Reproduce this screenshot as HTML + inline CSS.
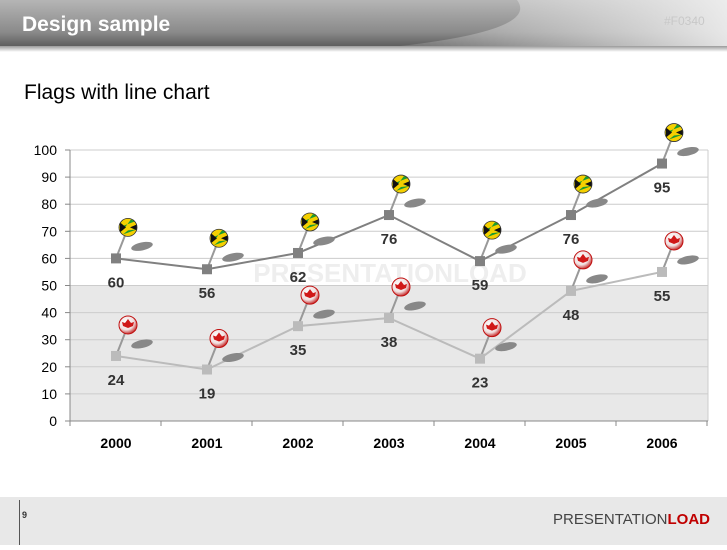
<!DOCTYPE html>
<html><head><meta charset="utf-8"><style>
body{margin:0;width:727px;height:545px;overflow:hidden;background:#fff;font-family:"Liberation Sans",sans-serif}
</style></head><body>
<svg id="s" width="727" height="545" xmlns="http://www.w3.org/2000/svg">
<defs>
<linearGradient id="hd" x1="0" y1="0" x2="0" y2="1"><stop offset="0" stop-color="#b5b5b5"/><stop offset="0.7" stop-color="#8a8a8a"/><stop offset="1" stop-color="#5e5e5e"/></linearGradient>
<linearGradient id="hl" x1="0" y1="0" x2="1" y2="0"><stop offset="0" stop-color="#d8d8d8" stop-opacity="0"/><stop offset="1" stop-color="#f2f2f2"/></linearGradient>
<linearGradient id="sh" x1="0" y1="0" x2="0" y2="1"><stop offset="0" stop-color="#999"/><stop offset="1" stop-color="#fff"/></linearGradient>
<radialGradient id="ca" cx="0.4" cy="0.35" r="0.7"><stop offset="0" stop-color="#fff"/><stop offset="0.6" stop-color="#f0e0e0"/><stop offset="1" stop-color="#c01010"/></radialGradient>
</defs>
<rect x="0" y="0" width="727" height="46" fill="url(#hd)"/>
<path d="M330,0 L727,0 L727,46 L400,46 Q540,30 517,0 Z" fill="url(#hl)" opacity="0.9"/>
<rect x="0" y="46" width="727" height="6" fill="url(#sh)"/>
<text x="22" y="31" font-size="21" font-weight="bold" fill="#fff">Design sample</text>
<text x="664" y="25" font-size="12" fill="#c8c8c8">#F0340</text>
<text x="24" y="99" font-size="21" fill="#000">Flags with line chart</text>
<rect x="0" y="497" width="727" height="48" fill="#e8e8e8"/>
<line x1="19.5" y1="500" x2="19.5" y2="545" stroke="#555"/>
<text x="22" y="518" font-size="9" font-weight="bold" fill="#333">9</text>
<text x="710" y="524" font-size="15" text-anchor="end" fill="#444">PRESENTATION<tspan fill="#c00000" font-weight="bold">LOAD</tspan></text>
<g id="c"></g>
</svg>
<script>
var g=document.getElementById('c'),h='';
var X0=70,X1=708,Y0=421,k=2.71;
h+='<rect x="'+X0+'" y="'+(Y0-50*k)+'" width="'+(X1-X0)+'" height="'+(50*k)+'" fill="#e8e8e8"/>';
for(var v=0;v<=100;v+=10){var y=Y0-v*k;h+='<line x1="'+X0+'" x2="'+X1+'" y1="'+y+'" y2="'+y+'" stroke="#ccc"/>';
h+='<line x1="'+(X0-5)+'" x2="'+X0+'" y1="'+y+'" y2="'+y+'" stroke="#888"/>';
h+='<text x="57" y="'+(y+5)+'" font-size="14" text-anchor="end" fill="#000">'+v+'</text>';}
h+='<line x1="'+X1+'" x2="'+X1+'" y1="'+(Y0-100*k)+'" y2="'+Y0+'" stroke="#ccc"/>';
h+='<line x1="'+X0+'" x2="'+X0+'" y1="'+(Y0-100*k)+'" y2="'+Y0+'" stroke="#888"/>';
h+='<line x1="'+X0+'" x2="'+X1+'" y1="'+Y0+'" y2="'+Y0+'" stroke="#888"/>';
var yrs=[2000,2001,2002,2003,2004,2005,2006];
for(var i=0;i<=7;i++){var x=X0+i*91;h+='<line x1="'+x+'" x2="'+x+'" y1="'+Y0+'" y2="'+(Y0+5)+'" stroke="#888"/>';}
yrs.forEach(function(yr,i){h+='<text x="'+(116+i*91)+'" y="448" font-size="14" font-weight="bold" text-anchor="middle">'+yr+'</text>';});
h+='<text x="390" y="282" font-size="26" font-weight="bold" fill="#eee" text-anchor="middle">PRESENTATIONLOAD</text>';
function series(d,col,flag){var p=d.map(function(v,i){return (116+i*91)+','+(Y0-v*k)}).join(' ');
h+='<polyline points="'+p+'" fill="none" stroke="'+col+'" stroke-width="2"/>';
d.forEach(function(v,i){var x=116+i*91,y=Y0-v*k;
h+='<ellipse cx="'+(x+26)+'" cy="'+(y-12)+'" rx="11" ry="4" fill="#888" transform="rotate(-12 '+(x+26)+' '+(y-12)+')"/>';
h+='<line x1="'+x+'" y1="'+y+'" x2="'+(x+11)+'" y2="'+(y-28)+'" stroke="#999" stroke-width="2"/>';
h+='<rect x="'+(x-5)+'" y="'+(y-5)+'" width="10" height="10" fill="'+col+'"/>';
var cx=x+12,cy=y-31;
if(flag){h+='<circle cx="'+cx+'" cy="'+cy+'" r="9" fill="#f5d000"/><path d="M'+(cx-9)+','+cy+' L'+(cx-3)+','+cy+' L'+(cx+3)+','+(cy-8)+' L'+(cx+7)+','+(cy-6)+' Z M'+(cx-5)+','+(cy+7)+' L'+cx+','+(cy+3)+' L'+(cx+9)+','+(cy+2)+' Z" fill="#1a9a30"/><path d="M'+(cx+2)+','+cy+' L'+(cx+9)+','+(cy-3)+' L'+(cx+9)+','+(cy+3)+' Z M'+(cx-2)+','+cy+' L'+(cx-8)+','+(cy-5)+' L'+(cx-8)+','+(cy+5)+' Z" fill="#111"/><circle cx="'+cx+'" cy="'+cy+'" r="9" fill="none" stroke="#333" stroke-width="0.8"/>';}
else{h+='<circle cx="'+cx+'" cy="'+cy+'" r="9" fill="url(#ca)" stroke="#c01010" stroke-width="1"/><path d="M'+cx+','+(cy-6)+' l3,4 l3,-1 l-1,4 l-5,2 l-5,-2 l-1,-4 l3,1 z" fill="#d01818"/>';}
h+='<text x="'+x+'" y="'+(y+29)+'" font-size="15" font-weight="bold" text-anchor="middle" fill="#333">'+v+'</text>';});}
series([24,19,35,38,23,48,55],'#bbb',false);
series([60,56,62,76,59,76,95],'#808080',true);
g.innerHTML=h;
</script>
</body></html>
